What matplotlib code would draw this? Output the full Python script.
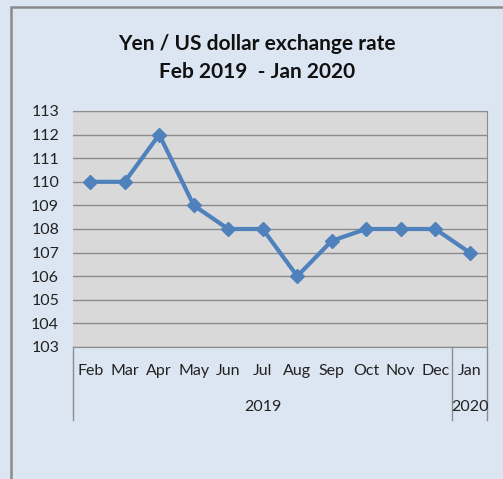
import matplotlib.pyplot as plt
from matplotlib.patches import Rectangle
import matplotlib.transforms as mtransforms

plt.rcParams['font.family'] = ['Lato', 'DejaVu Sans']

# Data
months = ['Feb', 'Mar', 'Apr', 'May', 'Jun', 'Jul', 'Aug', 'Sep', 'Oct', 'Nov', 'Dec', 'Jan']
years = ['2019', '2020']
months_per_year = [11, 1]
rates = [110, 110, 112, 109, 108, 108, 106, 107.5, 108, 108, 108, 107]

bg = '#dce6f2'
plot_bg = '#d9d9d9'
grid_col = '#8c8c8c'
line_col = '#4f81bd'

fig = plt.figure(figsize=(5.03, 4.79), dpi=100)
fig.patch.set_facecolor(bg)

# outer chart border (left and top visible)
fig.add_artist(Rectangle((11 / 503, -0.1), 1.2, 1 - 7 / 479 + 0.1,
                         transform=fig.transFigure, facecolor='none',
                         edgecolor='#8a8a8a', linewidth=1.8))

ax = fig.add_axes([73 / 503, 1 - 347 / 479, 414 / 503, 236 / 479])
ax.set_facecolor(plot_bg)

x = list(range(len(months)))
ax.plot(x, rates, color=line_col, linewidth=3, marker='D', markersize=7,
        markerfacecolor=line_col, markeredgecolor=line_col, zorder=3)

ax.set_xlim(-0.5, len(months) - 0.5)
ax.set_ylim(103, 113)
ax.set_yticks(range(103, 114))
ax.tick_params(axis='y', length=0, labelsize=11.5, pad=10, colors='#222222')
ax.set_xticks([])
ax.grid(axis='y', color=grid_col, linewidth=1)
ax.set_axisbelow(True)

for side in ['top', 'right', 'bottom']:
    ax.spines[side].set_color(grid_col)
ax.spines['left'].set_visible(False)

# multi-level category axis
trans = mtransforms.blended_transform_factory(ax.transData, ax.transAxes)
for i, m in enumerate(months):
    ax.text(i, -0.10, m, transform=trans, ha='center', va='center',
            fontsize=11.5, color='#222222')

start = 0
seps = [-0.5]
for y, n in zip(years, months_per_year):
    mid = start + (n - 1) / 2
    ax.text(mid, -0.255, y, transform=trans, ha='center', va='center',
            fontsize=11.5, color='#222222')
    start += n
    seps.append(start - 0.5)
for s in seps:
    ax.plot([s, s], [0, -0.31], transform=trans, color=grid_col,
            linewidth=1, clip_on=False)

tx = 257 / 503
fig.text(tx, 1 - 44 / 479, 'Yen / US dollar exchange rate',
         ha='center', va='center', fontsize=15, fontweight='bold', color='#111111')
fig.text(tx, 1 - 72 / 479, 'Feb 2019  - Jan 2020',
         ha='center', va='center', fontsize=15, fontweight='bold', color='#111111')

fig.savefig('out.png', dpi=100, facecolor=bg)
